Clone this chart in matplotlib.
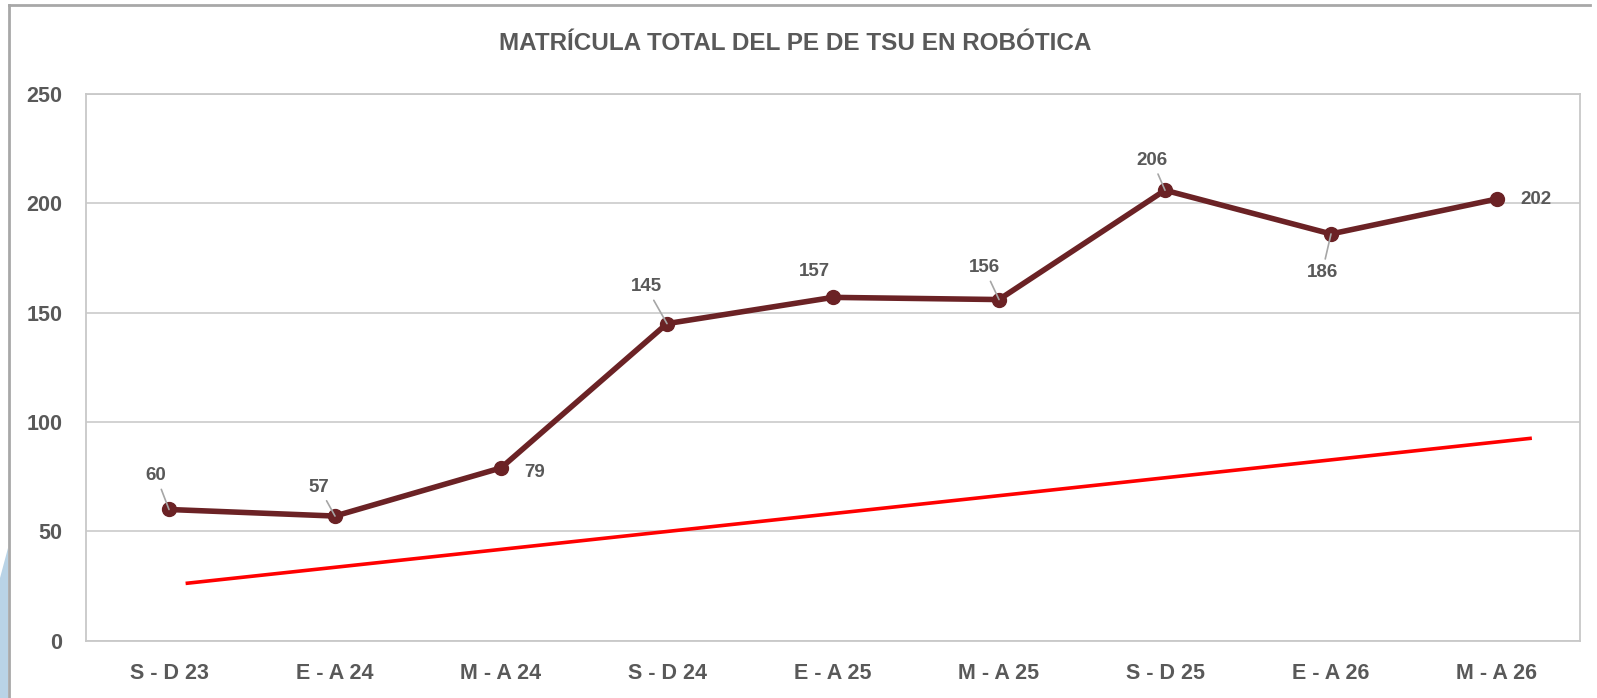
import matplotlib
matplotlib.use("Agg")
import matplotlib.pyplot as plt
import matplotlib.patheffects as pe
from matplotlib.patches import Polygon

# ---- data ----
categories = ["S - D 23", "E - A 24", "M - A 24", "S - D 24", "E - A 25",
              "M - A 25", "S - D 25", "E - A 26", "M - A 26"]
values = [60, 57, 79, 145, 157, 156, 206, 186, 202]
# label offsets (pixels) and whether a leader line is drawn
label_dx = [-13, -16, 34, -21, -19, -15, -13, -9, 39]
label_dy = [34, 29, -5, 37, 26, 32, 30, -39, -1]
leader = [True, True, False, True, False, True, True, True, False]
# red trend line (category position, value)
trend_x = [0.10, 8.21]
trend_y = [26.2, 92.6]
yticks = [0, 50, 100, 150, 200, 250]
title = "MATRÍCULA TOTAL DEL PE DE TSU EN ROBÓTICA"

W, H = 1597, 698
fig = plt.figure(figsize=(W / 100, H / 100), dpi=100)
plt.rcParams['font.family'] = ['Liberation Sans', 'DejaVu Sans']

text_col = "#595959"
line_col = "#6B2225"

ax = fig.add_axes([86 / W, 1 - 640.7 / H, (1580 - 86) / W, (640.7 - 94) / H])
ax.set_xlim(-0.5, len(categories) - 0.5)
ax.set_ylim(0, 250)
ax.set_yticks(yticks)
ax.set_xticks(range(len(categories)))
ax.set_xticklabels(categories)
ax.tick_params(length=0, labelsize=15.5, labelcolor=text_col)
ax.tick_params(axis='y', pad=17)
ax.tick_params(axis='x', pad=16)
for lab in ax.get_xticklabels() + ax.get_yticklabels():
    lab.set_fontweight('bold')
ax.grid(axis='y', color="#cfcfcf", lw=1.3)
ax.set_axisbelow(True)
for s in ax.spines.values():
    s.set_color("#c8c8c8")
    s.set_linewidth(1.3)

# trend line with shadow
ax.plot(trend_x, trend_y, color="#FF0000", lw=2.6, solid_capstyle='butt', zorder=3,
        path_effects=[pe.SimplePatchShadow(offset=(2, -3), shadow_rgbFace="#808080", alpha=0.35),
                      pe.Normal()])

# main series
xs = list(range(len(values)))
ax.plot(xs, values, color=line_col, lw=4, marker='o', markersize=10,
        markerfacecolor=line_col, markeredgecolor=line_col, zorder=4)

for x, v, dx, dy, ld in zip(xs, values, label_dx, label_dy, leader):
    kw = {}
    if ld:
        kw['arrowprops'] = dict(arrowstyle='-', color="#a6a6a6", lw=1.2,
                                shrinkA=2, shrinkB=0)
    ax.annotate(str(v), xy=(x, v), xytext=(dx, dy), textcoords='offset pixels',
                ha='center', va='center', fontsize=13.5, fontweight='bold',
                color=text_col, zorder=6, **kw)

fig.text(795 / W, 1 - 43 / H, title, ha='center', va='center',
         fontsize=17.5, fontweight='bold', color=text_col)

# outer chart frame (left and top edges visible)
fig.add_artist(plt.Line2D([9 / W, 9 / W], [0, 1 - 5 / H], transform=fig.transFigure,
                          color="#a8a8a8", lw=2))
fig.add_artist(plt.Line2D([9 / W, 1590 / W], [1 - 5 / H, 1 - 5 / H], transform=fig.transFigure,
                          color="#a8a8a8", lw=2))
# light blue background decoration at the left edge
fig.add_artist(Polygon([[0, 0], [8 / W, 0], [8 / W, 150 / H], [0, 120 / H]],
                       closed=True, transform=fig.transFigure, facecolor="#b9d3e6",
                       edgecolor='none'))

fig.savefig("out.png", dpi=100)
